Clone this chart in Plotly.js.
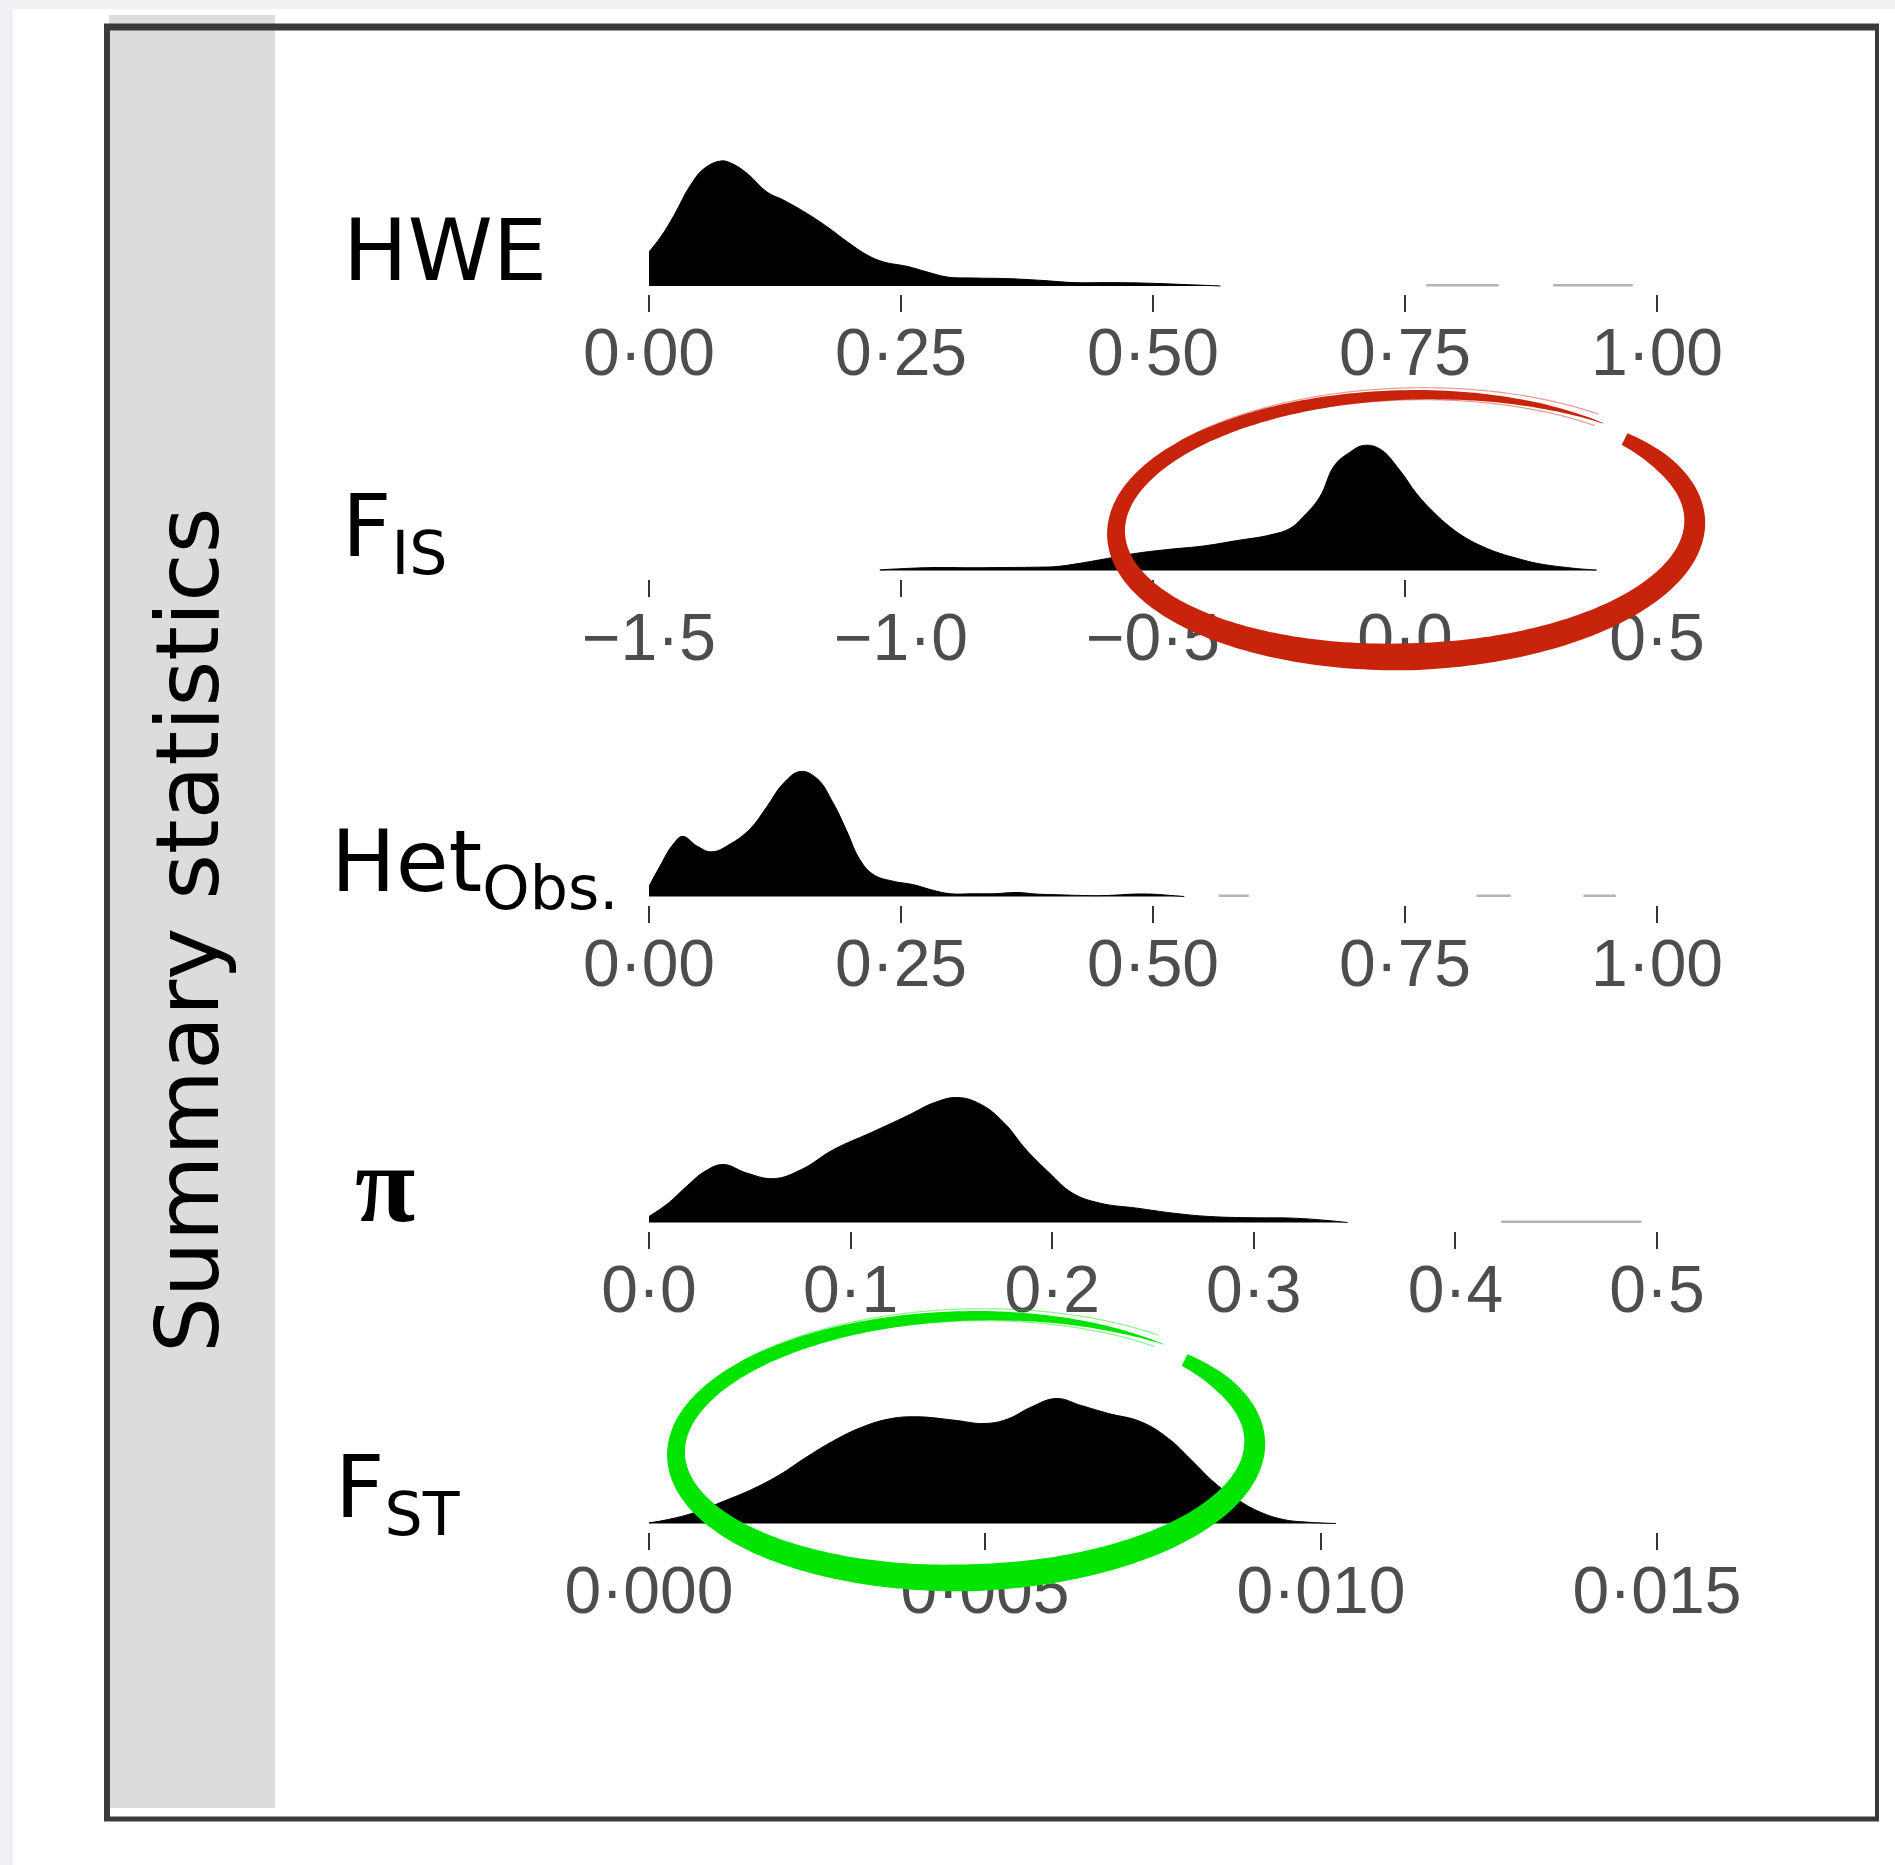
<!DOCTYPE html>
<html>
<head>
<meta charset="utf-8">
<script src="https://cdn.plot.ly/plotly-3.0.1.min.js"></script>
<style>
  html, body { margin: 0; padding: 0; background: #ffffff; }
  #chart { width: 1895px; height: 1865px; }
</style>
</head>
<body>
<div id="chart"></div>
<script>
// ---- Ridge densities (height relative to each ridge's own maximum) ----
const hweX = [0, 0.0116, 0.0248, 0.041, 0.0546, 0.071, 0.081, 0.0976, 0.117, 0.134, 0.157, 0.177, 0.197, 0.217, 0.233, 0.256, 0.276, 0.296, 0.322, 0.355, 0.389, 0.422, 0.455, 0.488, 0.508, 0.53, 0.55, 0.567];
const hweY = [0.272, 0.392, 0.565, 0.805, 0.939, 1.0, 0.984, 0.899, 0.752, 0.685, 0.579, 0.472, 0.352, 0.245, 0.192, 0.157, 0.112, 0.072, 0.064, 0.059, 0.045, 0.027, 0.027, 0.024, 0.019, 0.012, 0.006, 0];

const fisX = [-1.042, -0.98, -0.929, -0.86, -0.797, -0.74, -0.691, -0.652, -0.599, -0.532, -0.466, -0.40, -0.334, -0.268, -0.228, -0.202, -0.169, -0.14, -0.109, -0.083, -0.05, -0.010, 0.023, 0.056, 0.089, 0.122, 0.155, 0.188, 0.222, 0.254, 0.288, 0.321, 0.35, 0.38];
const fisY = [0.005, 0.018, 0.024, 0.022, 0.024, 0.026, 0.032, 0.053, 0.09, 0.138, 0.17, 0.196, 0.239, 0.284, 0.337, 0.43, 0.589, 0.84, 0.947, 1.0, 0.973, 0.80, 0.615, 0.47, 0.35, 0.257, 0.19, 0.138, 0.098, 0.064, 0.04, 0.024, 0.012, 0.004];

const hetX = [0, 0.0109, 0.0241, 0.0334, 0.0473, 0.0622, 0.0804, 0.1002, 0.1168, 0.1333, 0.15, 0.1664, 0.183, 0.196, 0.209, 0.2225, 0.2423, 0.262, 0.282, 0.299, 0.322, 0.342, 0.365, 0.385, 0.405, 0.431, 0.454, 0.481, 0.498, 0.515, 0.531];
const hetY = [0.081, 0.243, 0.419, 0.481, 0.405, 0.357, 0.419, 0.54, 0.716, 0.905, 1.0, 0.946, 0.743, 0.527, 0.297, 0.176, 0.122, 0.095, 0.049, 0.022, 0.022, 0.022, 0.032, 0.019, 0.014, 0.008, 0.008, 0.019, 0.019, 0.01, 0];

const piX = [0, 0.0096, 0.0187, 0.0278, 0.0369, 0.0483, 0.062, 0.0756, 0.0916, 0.11, 0.128, 0.1417, 0.153, 0.1645, 0.176, 0.187, 0.1986, 0.21, 0.2237, 0.242, 0.26, 0.278, 0.299, 0.319, 0.333, 0.3465];
const piY = [0.048, 0.155, 0.29, 0.41, 0.464, 0.397, 0.351, 0.424, 0.584, 0.718, 0.853, 0.96, 1.0, 0.946, 0.8, 0.584, 0.397, 0.236, 0.155, 0.115, 0.075, 0.048, 0.038, 0.035, 0.021, 0];

const fstX = [0, 0.000287, 0.000697, 0.00111, 0.00152, 0.00193, 0.00234, 0.00275, 0.00316, 0.00357, 0.00398, 0.00452, 0.005, 0.00534, 0.00568, 0.00606, 0.00643, 0.00684, 0.00732, 0.00773, 0.00807, 0.00842, 0.00876, 0.0091, 0.00944, 0.00978, 0.01022];
const fstY = [0.005, 0.032, 0.09, 0.178, 0.27, 0.385, 0.53, 0.663, 0.769, 0.836, 0.854, 0.828, 0.80, 0.836, 0.93, 1.0, 0.944, 0.88, 0.814, 0.68, 0.509, 0.324, 0.19, 0.09, 0.032, 0.011, 0.0];

// faint near-zero tail pieces along the baseline
const hweTailX = [0.771, 0.843, null, 0.897, 0.976];
const hetTailX = [0.565, 0.595, null, 0.821, 0.855, null, 0.927, 0.959];
const piTailX  = [0.4227, 0.4922];

// ---- Axis ticks ----
const hweTicks = [0, 0.25, 0.5, 0.75, 1];
const hweTickText = ['0·00', '0·25', '0·50', '0·75', '1·00'];
const fisTicks = [-1.5, -1, -0.5, 0, 0.5];
const fisTickText = ['\u22121·5', '\u22121·0', '\u22120·5', '0·0', '0·5'];
const hetTicks = [0, 0.25, 0.5, 0.75, 1];
const hetTickText = ['0·00', '0·25', '0·50', '0·75', '1·00'];
const piTicks = [0, 0.1, 0.2, 0.3, 0.4, 0.5];
const piTickText = ['0·0', '0·1', '0·2', '0·3', '0·4', '0·5'];
const fstTicks = [0, 0.005, 0.01, 0.015];
const fstTickText = ['0·000', '0·005', '0·010', '0·015'];

const rowNames = ['HWE', 'F<sub>IS</sub>', 'Het<sub>Obs.</sub>', '<b>\u03c0</b>', 'F<sub>ST</sub>'];
const yTitle = 'Summary statistics';

// ---- Page geometry (pixels) ----
const W = 1895, H = 1865;
const px = x => x / W;
const py = y => 1 - y / H;

const axisLeft = 649, axisRight = 1657;
const baselines = [286, 570.5, 896.5, 1222.5, 1523.5];
const peakPx = 125, gapPx = 8, headPx = 130;

const panels = [
  { x: hweX, y: hweY, tail: hweTailX, range: [0, 1], tv: hweTicks, tt: hweTickText },
  { x: fisX, y: fisY, tail: null, range: [-1.5, 0.5], tv: fisTicks, tt: fisTickText },
  { x: hetX, y: hetY, tail: hetTailX, range: [0, 1], tv: hetTicks, tt: hetTickText },
  { x: piX, y: piY, tail: piTailX, range: [0, 0.5], tv: piTicks, tt: piTickText },
  { x: fstX, y: fstY, tail: null, range: [0, 0.015], tv: fstTicks, tt: fstTickText }
];

const traces = [];
const layout = {
  width: W, height: H,
  margin: { l: 0, r: 0, t: 0, b: 0, pad: 0 },
  paper_bgcolor: '#ffffff',
  plot_bgcolor: 'rgba(0,0,0,0)',
  showlegend: false,
  shapes: [],
  annotations: []
};

panels.forEach((p, i) => {
  const n = i + 1;
  const xa = n === 1 ? 'x' : 'x' + n;
  const ya = n === 1 ? 'y' : 'y' + n;
  const base = baselines[i];
  traces.push({
    type: 'scatter', x: p.x, y: p.y, xaxis: xa, yaxis: ya,
    mode: 'lines', fill: 'tozeroy', fillcolor: '#000000',
    line: { color: '#000000', width: 1, shape: 'spline', smoothing: 1.2 },
    hoverinfo: 'skip'
  });
  if (p.tail) {
    traces.push({
      type: 'scatter', x: p.tail, y: p.tail.map(v => v === null ? null : 0.006),
      xaxis: xa, yaxis: ya, mode: 'lines', connectgaps: false,
      line: { color: '#b4b4b4', width: 2.5 }, hoverinfo: 'skip'
    });
  }
  layout[n === 1 ? 'xaxis' : 'xaxis' + n] = {
    domain: [px(axisLeft), px(axisRight)],
    range: p.range, anchor: ya,
    tickmode: 'array', tickvals: p.tv, ticktext: p.tt,
    ticks: 'outside', ticklen: 17, tickwidth: 2, tickcolor: '#333333',
    ticklabelstandoff: -16,
    showline: false, showgrid: false, zeroline: false,
    tickfont: { family: 'Liberation Sans, Arial, sans-serif', size: 66, color: '#4d4d4d' }
  };
  layout[n === 1 ? 'yaxis' : 'yaxis' + n] = {
    domain: [py(base + gapPx), py(base - headPx)],
    range: [-gapPx / peakPx, headPx / peakPx],
    anchor: xa, visible: false
  };
});

// ---- Background panels and frame ----
const bg = (x0, y0, x1, y1, color) => ({
  type: 'rect', xref: 'paper', yref: 'paper', layer: 'below',
  x0: px(x0), x1: px(x1), y0: py(y1), y1: py(y0),
  fillcolor: color, line: { width: 0 }
});
layout.shapes.push(bg(0, 0, W, 9, '#eff1f5'));
layout.shapes.push(bg(0, 0, 13, H, '#eff1f5'));
layout.shapes.push(bg(109, 15, 275, 1808, '#dcdcdc'));

const edge = (x0, y0, x1, y1, w) => ({
  type: 'line', xref: 'paper', yref: 'paper', layer: 'above',
  x0: px(x0), y0: py(y0), x1: px(x1), y1: py(y1),
  line: { color: '#3a3a3a', width: w }
});
layout.shapes.push(edge(104, 27, 1879, 27, 7));
layout.shapes.push(edge(107, 24, 107, 1821, 6));
layout.shapes.push(edge(1877, 24, 1877, 1821, 4));
layout.shapes.push(edge(104, 1819, 1879, 1819, 5));

// ---- Hand-drawn highlight loops ----
function interp(keys, t) {
  for (let k = 1; k < keys.length; k++) {
    if (t <= keys[k][0]) {
      const a = keys[k - 1], b = keys[k];
      const f = (t - a[0]) / (b[0] - a[0]);
      return a[1] + (b[1] - a[1]) * f;
    }
  }
  return keys[keys.length - 1][1];
}
function loopPoints(cx, cy, rx, ry, rotDeg, offset, tFrom, tTo, widthKeys) {
  const n = 260;
  const th0 = -40 * Math.PI / 180, sweep = 352 * Math.PI / 180;
  const rot = rotDeg * Math.PI / 180;
  const outer = [], inner = [];
  for (let i = 0; i <= n; i++) {
    const t = tFrom + (tTo - tFrom) * i / n;
    const th = th0 + sweep * t;
    const s = 0.985 + 0.035 * t;
    const ex = rx * s, ey = ry * s;
    const x = ex * Math.cos(th), y = ey * Math.sin(th);
    let nx = Math.cos(th) * ey, ny = Math.sin(th) * ex;
    const nl = Math.hypot(nx, ny); nx /= nl; ny /= nl;
    const w = widthKeys ? interp(widthKeys, t) : 0;
    const pts = [[x + nx * (offset + w / 2), y + ny * (offset + w / 2)],
                 [x + nx * (offset - w / 2), y + ny * (offset - w / 2)]];
    const tr = pts.map(([a, b]) => [
      cx + a * Math.cos(rot) - b * Math.sin(rot),
      cy + a * Math.sin(rot) + b * Math.cos(rot)
    ]);
    outer.push(tr[0]); inner.push(tr[1]);
  }
  return { outer, inner };
}
const toPath = pts => pts.map((p, i) => (i ? 'L' : 'M') + px(p[0]).toFixed(5) + ',' + py(p[1]).toFixed(5)).join(' ');
const strokeWidths = [[0, 13], [0.04, 18], [0.12, 21], [0.37, 27], [0.55, 21], [0.65, 17], [0.8, 12.5], [0.9, 9], [0.96, 5], [1, 0.6]];

function addLoop(cx, cy, color) {
  const body = loopPoints(cx, cy, 290, 130, -1.5, 0, 0, 1, strokeWidths);
  const d = toPath(body.outer) + ' ' + toPath(body.inner.slice().reverse()).replace(/^M/, 'L') + ' Z';
  layout.shapes.push({
    type: 'path', xref: 'paper', yref: 'paper', layer: 'above',
    path: d, fillcolor: color, line: { width: 0 }
  });
  // loose bristle strands near the end of the stroke
  [7, -5].forEach((off, k) => {
    const hair = loopPoints(cx, cy, 290, 130, -1.5, off, 0.74 + 0.04 * k, 0.995, null);
    layout.shapes.push({
      type: 'path', xref: 'paper', yref: 'paper', layer: 'above',
      path: toPath(hair.outer), opacity: 0.45,
      line: { color: color, width: 1.2 }
    });
  });
}
addLoop(1408, 527, '#c8230b');
addLoop(968, 1448, '#00e400');

// ---- Text ----
const rowLabelPos = [
  { x: 341, top: 198, font: 'DejaVu Sans', size: 86 },
  { x: 340, top: 474, font: 'DejaVu Sans', size: 86 },
  { x: 329, top: 809, font: 'DejaVu Sans', size: 86 },
  { x: 353, top: 1121, font: 'Liberation Serif', size: 110 },
  { x: 333, top: 1435, font: 'DejaVu Sans', size: 86 }
];
rowNames.forEach((name, i) => {
  const p = rowLabelPos[i];
  layout.annotations.push({
    xref: 'paper', yref: 'paper', x: px(p.x), y: py(p.top),
    xanchor: 'left', yanchor: 'top', showarrow: false,
    text: name, font: { family: p.font, size: p.size, color: '#000000' }
  });
});
layout.annotations.push({
  xref: 'paper', yref: 'paper', x: px(187), y: py(930),
  xanchor: 'center', yanchor: 'middle', showarrow: false, textangle: -90,
  text: yTitle, font: { family: 'DejaVu Sans', size: 88, color: '#000000' }
});

Plotly.newPlot('chart', traces, layout, { displayModeBar: false, staticPlot: true });
</script>
</body>
</html>
